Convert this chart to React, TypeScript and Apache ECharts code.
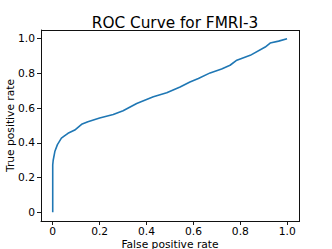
import React, { useEffect, useRef } from "react";
import * as echarts from "echarts";

const titleText = "ROC Curve for FMRI-3";
const xName = "False positive rate";
const yName = "True positive rate";
const tickValues = [0, 0.2, 0.4, 0.6, 0.8, 1.0];
const axisMin = -0.05;
const axisMax = 1.05;

const fpr = [0, 0, 0.002, 0.009, 0.02, 0.037, 0.05, 0.065, 0.094, 0.123, 0.15, 0.18, 0.2, 0.258, 0.3, 0.358, 0.429, 0.486, 0.543, 0.585, 0.621, 0.671, 0.72, 0.756, 0.785, 0.842, 0.906, 0.927, 0.963, 0.999, 1.0];
const tpr = [0, 0.273, 0.3, 0.35, 0.39, 0.427, 0.44, 0.455, 0.474, 0.507, 0.522, 0.535, 0.543, 0.563, 0.585, 0.627, 0.665, 0.688, 0.722, 0.751, 0.771, 0.803, 0.826, 0.847, 0.876, 0.904, 0.952, 0.975, 0.986, 1.0, 1.0];

const fmt = (v: number) => (v === 0 ? "0" : v.toFixed(1));
const FONT = "'DejaVu Sans', sans-serif";

const W = 332;
const H = 249;
const G = { left: 41, right: 33, top: 30, bottom: 28 };

export default function App() {
  const ref = useRef<HTMLDivElement>(null);
  useEffect(() => {
    if (!ref.current) return;
    const chart = echarts.init(ref.current, undefined, { renderer: "svg" });
    const mkLine = () => ({ color: "#000", width: 0.9 });
    const axisCommon = {
      type: "value" as const,
      min: axisMin,
      max: axisMax,
      splitLine: { show: false },
      axisLine: { show: true, onZero: false, lineStyle: mkLine() },
      axisTick: { show: true, length: 4, customValues: tickValues, lineStyle: mkLine() },
      nameLocation: "middle" as const,
      nameMoveOverlap: false,
      nameTextStyle: { fontFamily: FONT, fontSize: 10.7, color: "#000" },
    };
    chart.setOption({
      animation: false,
      backgroundColor: "#fff",
      title: {
        text: titleText,
        left: 170,
        textAlign: "center",
        top: 10,
        textStyle: { fontFamily: FONT, fontSize: 15.3, fontWeight: "normal", color: "#000" },
      },
      grid: {
        ...G,
        outerBoundsMode: "none",
        containLabel: false,
      },
      xAxis: {
        ...axisCommon,
        name: xName,
        nameGap: 17.5,
        axisLabel: { customValues: tickValues, formatter: fmt, margin: 5, fontFamily: FONT, fontSize: 10.7, color: "#000" },
      },
      yAxis: {
        ...axisCommon,
        name: yName,
        nameGap: 25,
        axisLabel: { customValues: tickValues, formatter: fmt, margin: 6, fontFamily: FONT, fontSize: 10.7, color: "#000" },
      },
      series: [
        {
          type: "line",
          data: fpr.map((x, i) => [x, tpr[i]]),
          showSymbol: false,
          symbol: "none",
          lineStyle: { color: "#1f77b4", width: 1.6 },
        },
      ],
    });
    return () => chart.dispose();
  }, []);
  return (
    <div style={{ position: "fixed", left: 0, top: 0, width: W, height: H }}>
      <div ref={ref} style={{ position: "absolute", left: 0, top: 0, width: W, height: H }} />
      <div
        style={{
          position: "absolute",
          left: G.left - 0.5,
          top: G.top - 0.5,
          width: W - G.left - G.right + 1,
          height: H - G.top - G.bottom + 1,
          border: "1px solid #111",
          boxSizing: "border-box",
          pointerEvents: "none",
        }}
      />
    </div>
  );
}
